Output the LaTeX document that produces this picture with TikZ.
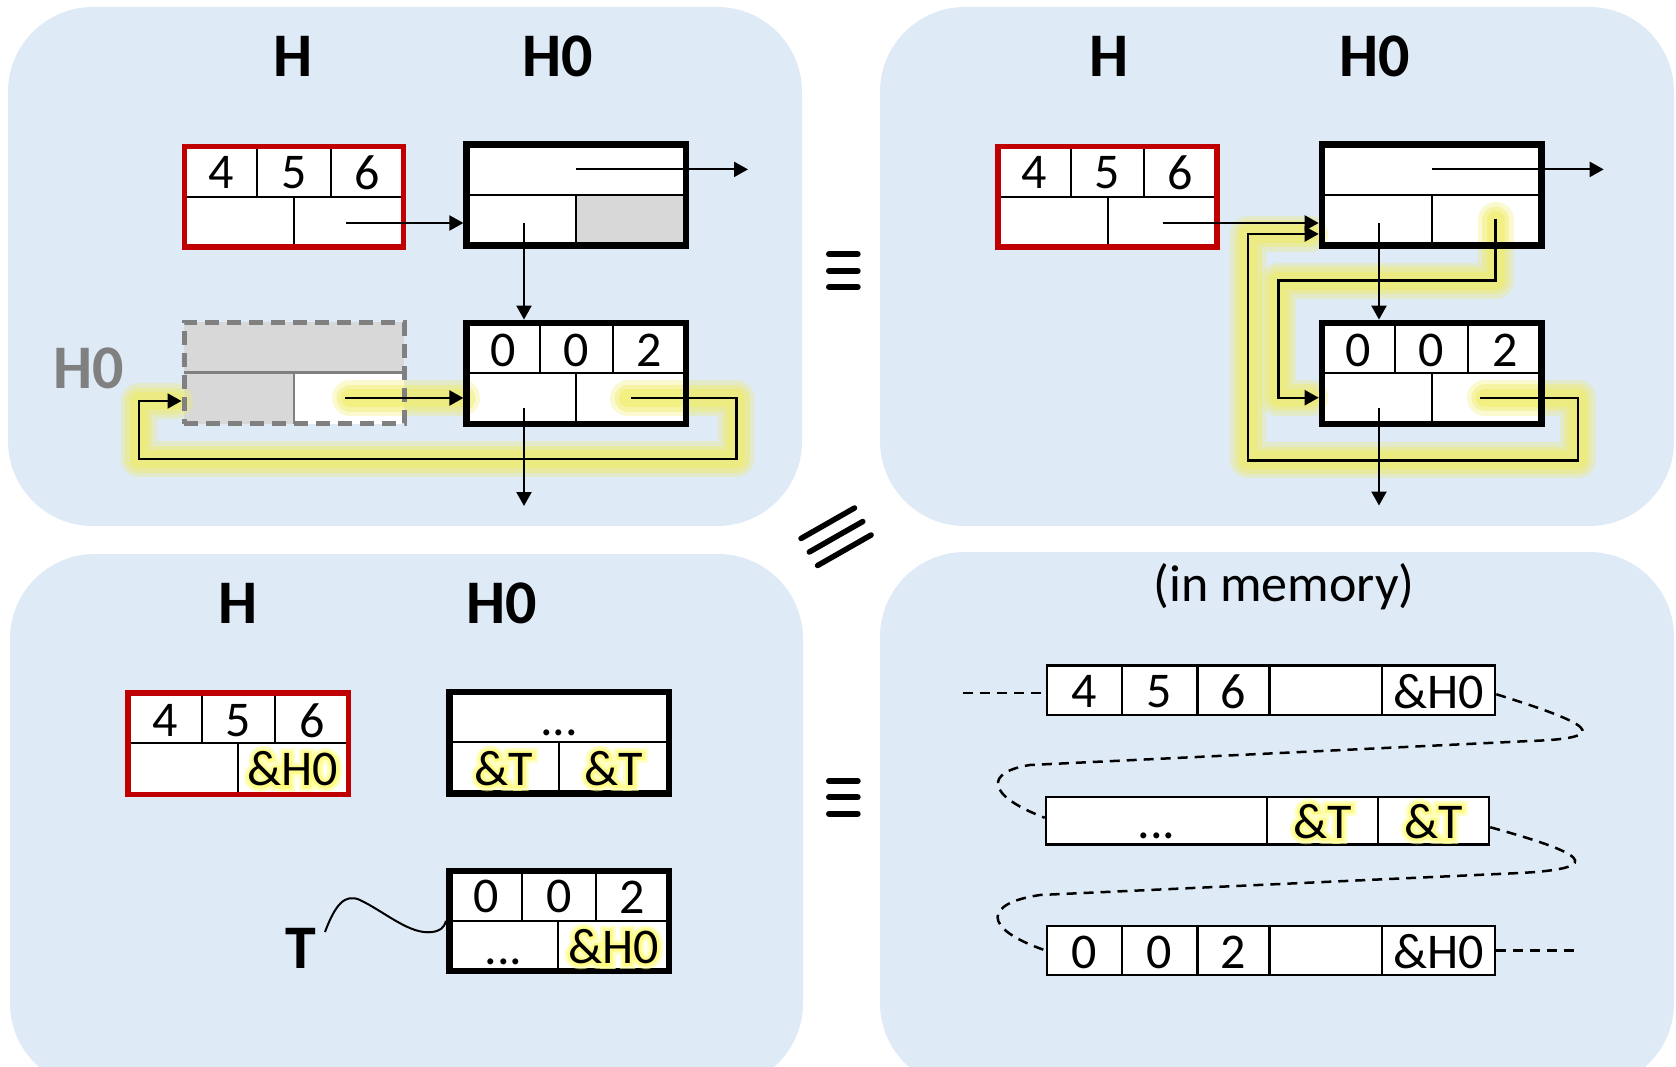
\documentclass[tikz,border=0pt]{standalone}
\usepackage{fontspec}
\setmainfont{Carlito}
\newfontfamily\haloA[FakeBold=22]{Carlito}
\newfontfamily\haloB[FakeBold=11]{Carlito}
\usetikzlibrary{arrows.meta,calc}
\definecolor{panelblue}{RGB}{222,234,246}
\definecolor{boxred}{RGB}{192,0,0}
\definecolor{cellgrey}{RGB}{216,216,216}
\definecolor{dashgrey}{RGB}{128,128,128}
\definecolor{glowc}{RGB}{240,236,100}
\definecolor{haloc}{RGB}{255,255,150}
\definecolor{halocb}{RGB}{255,250,110}
\pgfdeclarelayer{panels}
\pgfdeclarelayer{fills}
\pgfdeclarelayer{glowlayer}
\pgfsetlayers{panels,fills,glowlayer,main}
\newcommand{\glowpath}[1]{%
  \begin{pgfonlayer}{glowlayer}
    \draw[glowc, opacity=0.3, line width=36pt, line join=round, line cap=round] #1;
    \draw[glowc, opacity=0.4, line width=27pt, line join=round, line cap=round] #1;
    \draw[glowc, opacity=0.5, line width=18pt, line join=round, line cap=round] #1;
  \end{pgfonlayer}}
\newcommand{\halotext}[4]{%
  \node[inner sep=0pt, text=haloc, opacity=0.6, font=\haloA\fontsize{50}{60}\selectfont] (#1a) at (#2,#3) {#4};
  \node[inner sep=0pt, text=halocb, opacity=0.65, font=\haloB\fontsize{50}{60}\selectfont] (#1b) at (#2,#3) {#4};
  \node[txt] (#1) at (#2,#3) {#4};}
\begin{document}
\begin{tikzpicture}[x=1pt,y=-1pt,
  redbox/.style={draw=boxred,line width=5.5pt,inner sep=0pt,minimum width=219.4pt,minimum height=100.1pt},
  blkbox/.style={draw=black,line width=6.5pt,inner sep=0pt,minimum width=219.4pt,minimum height=100.9pt},
  gdashbox/.style={draw=dashgrey,line width=5pt,dash pattern=on 14pt off 8pt,inner sep=0pt,minimum width=220pt,minimum height=101.3pt},
  memrow/.style={draw=black,line width=2.5pt,inner sep=0pt},
  divl/.style={line width=2pt},
  mdivl/.style={line width=2.5pt},
  gdivl/.style={draw=dashgrey,line width=2.5pt},
  arr/.style={line width=2.2pt,-{Triangle[length=14pt,width=15pt]}},
  txt/.style={inner sep=0pt,font=\fontsize{50}{60}\selectfont},
  lbl/.style={inner sep=0pt,font=\fontsize{62}{74}\selectfont\bfseries},
  memdash/.style={line width=2.5pt,dash pattern=on 10pt off 7pt},
  eqbar/.style={line width=6pt,line cap=round},
]
\useasboundingbox (0,0) rectangle (1676,1067);
% ---------------- panels
\begin{pgfonlayer}{panels}
  \clip (0,0) rectangle (1676,1067);
  \fill[white] (0,0) rectangle (1676,1067);
  \fill[panelblue,rounded corners=85pt] (8,7) rectangle (802,526);
  \fill[panelblue,rounded corners=85pt] (880,7) rectangle (1674,526);
  \fill[panelblue,rounded corners=85pt] (10,554) rectangle (803,1088);
  \fill[panelblue,rounded corners=85pt] (880,552) rectangle (1674,1088);
\end{pgfonlayer}
% ---------------- cell fills and inner dividers
\begin{pgfonlayer}{fills}
  % TL H
  \fill[white] (184.3,146.75) rectangle (403.7,246.85);
  \draw[divl] (184.3,196.8) -- (403.7,196.8) (257.4,146.75) -- (257.4,196.8) (330.6,146.75) -- (330.6,196.8) (294,196.8) -- (294,246.85);
  % TL H0 upper
  \fill[white] (466.65,144.45) rectangle (686.05,245.35);
  \fill[cellgrey] (576.35,194.9) rectangle (686.05,245.35);
  \draw[divl] (466.65,194.9) -- (686.05,194.9) (576.35,194.9) -- (576.35,245.35);
  % TL H0 lower
  \fill[white] (466.65,322.85) rectangle (686.05,423.75);
  \draw[divl] (466.65,372.5) -- (686.05,372.5) (539.8,322.85) -- (539.8,372.5) (612.9,322.85) -- (612.9,372.5) (576.35,372.5) -- (576.35,423.75);
  % TL old H0 (grey)
  \fill[cellgrey] (184,322.5) rectangle (404,423.8);
  \fill[white] (294,372.6) rectangle (404,423.8);
  \draw[gdivl] (184,372.6) -- (404,372.6) (294,372.6) -- (294,423.8);
  % TR H
  \fill[white] (997.8,146.75) rectangle (1217.2,246.85);
  \draw[divl] (997.8,196.8) -- (1217.2,196.8) (1070.9,146.75) -- (1070.9,196.8) (1144.1,146.75) -- (1144.1,196.8) (1107.5,196.8) -- (1107.5,246.85);
  % TR H0 upper
  \fill[white] (1321.95,144.45) rectangle (1541.35,245.35);
  \draw[divl] (1321.95,194.9) -- (1541.35,194.9) (1431.65,194.9) -- (1431.65,245.35);
  % TR H0 lower
  \fill[white] (1321.95,322.85) rectangle (1541.35,423.75);
  \draw[divl] (1321.95,372.5) -- (1541.35,372.5) (1395.1,322.85) -- (1395.1,372.5) (1468.2,322.85) -- (1468.2,372.5) (1431.65,372.5) -- (1431.65,423.75);
  % BL H
  \fill[white] (128,693) rectangle (348.7,794.3);
  \draw[divl] (128,743.3) -- (348.7,743.3) (201.6,693) -- (201.6,743.3) (275.1,693) -- (275.1,743.3) (237.5,743.3) -- (237.5,794.3);
  % BL H0
  \fill[white] (449.25,691.85) rectangle (668.75,793.25);
  \draw[divl] (449.25,742.4) -- (668.75,742.4) (558.6,742.4) -- (558.6,793.25);
  % BL T
  \fill[white] (449.25,870.75) rectangle (668.75,970.95);
  \draw[divl] (449.25,921) -- (668.75,921) (522.4,870.75) -- (522.4,921) (595.6,870.75) -- (595.6,921) (558,921) -- (558,970.95);
  % BR memory rows
  \fill[white] (1047,665.5) rectangle (1495,715);
  \fill[white] (1046,797) rectangle (1489,844.5);
  \fill[white] (1047,926) rectangle (1495,975);
\end{pgfonlayer}
% ---------------- highlight glows
\glowpath{(350,398) -- (462,398)}
\glowpath{(628,398) -- (736.4,398) -- (736.4,459) -- (138.6,459) -- (138.6,401) -- (175,401)}
\glowpath{(1485,397.7) -- (1577.6,397.7) -- (1577.6,460.4) -- (1248,460.4) -- (1248,234) -- (1310,234)}
\glowpath{(1495.5,220) -- (1495.5,280.6) -- (1278.4,280.6) -- (1278.4,397.7) -- (1310,397.7)}
% ---------------- boxes
\node[redbox] (tlH) at (294,196.8) {};
\node[blkbox] (tlA) at (576.35,194.9) {};
\node[blkbox] (tlB) at (576.35,373.3) {};
\node[gdashbox] (tlG) at (294,373.15) {};
\node[redbox] (trH) at (1107.5,196.8) {};
\node[blkbox] (trA) at (1431.65,194.9) {};
\node[blkbox] (trB) at (1431.65,373.3) {};
\node[redbox,minimum width=220.7pt,minimum height=101.3pt] (blH) at (238.35,743.65) {};
\node[blkbox,minimum width=219.5pt,minimum height=101.4pt] (blA) at (559,742.55) {};
\node[blkbox,minimum width=219.5pt,minimum height=100.2pt] (blB) at (559,920.85) {};
\node[memrow,minimum width=448pt,minimum height=49.5pt] (m1) at (1271,690.25) {};
\node[memrow,minimum width=443pt,minimum height=47.5pt] (m2) at (1267.5,820.75) {};
\node[memrow,minimum width=448pt,minimum height=49pt] (m3) at (1271,950.5) {};
\draw[mdivl] (1122,665.5) -- (1122,715) (1197.3,665.5) -- (1197.3,715) (1269.5,665.5) -- (1269.5,715) (1382,665.5) -- (1382,715);
\draw[mdivl] (1267,797) -- (1267,844.5) (1378,797) -- (1378,844.5);
\draw[mdivl] (1122,926) -- (1122,975) (1197.3,926) -- (1197.3,975) (1269.5,926) -- (1269.5,975) (1382,926) -- (1382,975);
% ---------------- arrows TL
\coordinate (tlHs) at (346,223);
\draw[arr] (tlHs) -- (tlHs -| tlA.west);
\coordinate (tlAs) at (576.35,169.4);
\coordinate (tlAe) at (748,169.4);
\draw[arr] (tlAs) -- (tlAe);
\coordinate (tlAd) at (524,223);
\draw[arr] (tlAd) -- (tlAd |- tlB.north);
\coordinate (tlGs) at (345,398);
\draw[arr] (tlGs) -- (tlGs -| tlB.west);
\coordinate (tlBd) at (524,408);
\coordinate (tlBe) at (524,506);
\draw[arr] (tlBd) -- (tlBe);
\coordinate (tlL0) at (631,398);
\coordinate (tlL4) at (138.6,401);
\draw[arr] (tlL0) -- (736.4,398) -- (736.4,459) -- (138.6,459) -- (tlL4) -- (tlL4 -| tlG.west);
% ---------------- arrows TR
\coordinate (trHs) at (1162.5,223);
\draw[arr] (trHs) -- (trHs -| trA.west);
\coordinate (trAs) at (1431.65,169.4);
\coordinate (trAe) at (1603.7,169.4);
\draw[arr] (trAs) -- (trAe);
\coordinate (trAd) at (1379,223);
\draw[arr] (trAd) -- (trAd |- trB.north);
\coordinate (trBd) at (1379,408);
\coordinate (trBe) at (1379,505.5);
\draw[arr] (trBd) -- (trBe);
\coordinate (trL0) at (1480,397.7);
\coordinate (trL4) at (1248,234);
\draw[arr] (trL0) -- (1577.6,397.7) -- (1577.6,460.4) -- (1248,460.4) -- (trL4) -- (trL4 -| trA.west);
\coordinate (trM0) at (1495.5,218.7);
\coordinate (trM3) at (1278.4,397.7);
\draw[arr] (trM0) -- (1495.5,280.6) -- (1278.4,280.6) -- (trM3) -- (trM3 -| trB.west);
% ---------------- memory dashed links
\coordinate (m1l) at (963,693);
\draw[memdash] (m1l) -- (m1l -| m1.west);
\draw[memdash] ([yshift=-4pt]m1.east) .. controls (1585,722) and (1620,738) .. (1530,741) -- (1030,765) .. controls (985,772) and (985,795) .. ([yshift=3pt]m2.west);
\draw[memdash] ([yshift=-6.5pt]m2.east) .. controls (1580,852) and (1612,868) .. (1520,873) -- (1040,895) .. controls (985,903) and (980,928) .. (m3.west);
\coordinate (m3r) at (1578,950.5);
\draw[memdash] (m3.east) -- (m3r);
% ---------------- equivalence signs
\draw[eqbar] (829,254.3) -- (857.7,254.3) (829,270.7) -- (857.7,270.7) (829,287) -- (857.7,287);
\draw[eqbar] (829,781) -- (857.7,781) (829,797.4) -- (857.7,797.4) (829,813.7) -- (857.7,813.7);
\draw[eqbar,line width=5.5pt] (801,538.5) -- (854.5,508) (809.3,552) -- (862.8,521.5) (817.6,565.5) -- (871.1,535);
% ---------------- labels
\node[lbl] (tlLH) at (293,56.3) {H};
\node[lbl] (tlLH0) at (557.8,56.3) {H0};
\node[lbl,text=dashgrey] (tlLG) at (89,368) {H0};
\node[lbl] (trLH) at (1109.5,56.3) {H};
\node[lbl] (trLH0) at (1374.3,56.3) {H0};
\node[lbl] (blLH) at (238.5,603.5) {H};
\node[lbl] (blLH0) at (502,603.5) {H0};
\node[lbl] (blLT) at (301,948) {T};
\node[txt,anchor=base,font=\fontsize{52}{62}\selectfont] (brL) at (1284,601) {(in memory)};
% ---------------- wavy T link
\coordinate (ws) at (325,932);
\draw[line width=2pt] (ws) .. controls (335,905) and (345,893) .. (360,900) .. controls (385,912) and (410,935) .. (432,932) .. controls (440,931) and (444,928) .. (blB.west);
% ---------------- cell texts TL
\node[txt] (t1) at (220.9,172.8) {4};
\node[txt] (t2) at (294,172.8) {5};
\node[txt] (t3) at (367.1,172.8) {6};
\node[txt] (t4) at (503.2,350) {0};
\node[txt] (t5) at (576.35,350) {0};
\node[txt] (t6) at (649.5,350) {2};
% TR
\node[txt] (r1) at (1034.4,172.8) {4};
\node[txt] (r2) at (1107.5,172.8) {5};
\node[txt] (r3) at (1180.6,172.8) {6};
\node[txt] (r4) at (1358.5,350) {0};
\node[txt] (r5) at (1431.65,350) {0};
\node[txt] (r6) at (1504.8,350) {2};
% BL
\node[txt] (b1) at (164.8,720.5) {4};
\node[txt] (b2) at (238.35,720.5) {5};
\node[txt] (b3) at (311.9,720.5) {6};
\halotext{b4}{292.7}{769}{\&H0}
\node[txt,anchor=base] (b5) at (559,735) {...};
\halotext{b6}{503.9}{768.5}{\&T}
\halotext{b7}{613.7}{768.5}{\&T}
\node[txt] (b8) at (485.8,896.8) {0};
\node[txt] (b9) at (559,896.8) {0};
\node[txt] (b10) at (632,896.8) {2};
\node[txt,anchor=base] (b11) at (503.6,964) {...};
\halotext{b12}{613.4}{946.5}{\&H0}
% BR
\node[txt] (k1) at (1084.5,691.5) {4};
\node[txt] (k2) at (1159.65,691.5) {5};
\node[txt] (k3) at (1233.4,691.5) {6};
\node[txt] (k4) at (1438.5,691.5) {\&H0};
\node[txt,anchor=base] (k5) at (1156.5,838.5) {...};
\halotext{k6}{1322.5}{821.5}{\&T}
\halotext{k7}{1433.5}{821.5}{\&T}
\node[txt] (k8) at (1084.5,952) {0};
\node[txt] (k9) at (1159.65,952) {0};
\node[txt] (k10) at (1233.4,952) {2};
\node[txt] (k11) at (1438.5,952) {\&H0};
\end{tikzpicture}
\end{document}
